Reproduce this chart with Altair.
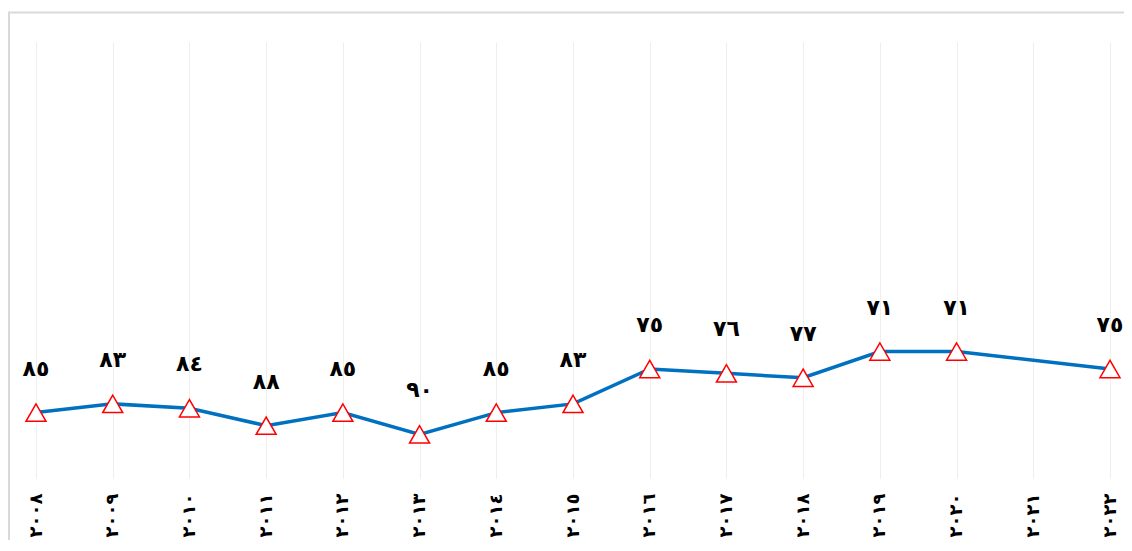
import altair as alt
import pandas as pd

# ---- data ----
years = ["٢٠٠٨", "٢٠٠٩", "٢٠١٠", "٢٠١١", "٢٠١٢", "٢٠١٣", "٢٠١٤", "٢٠١٥",
         "٢٠١٦", "٢٠١٧", "٢٠١٨", "٢٠١٩", "٢٠٢٠", "٢٠٢١", "٢٠٢٢"]
values = [85, 83, 84, 88, 85, 90, 85, 83, 75, 76, 77, 71, 71, None, 75]

AR_DIGITS = str.maketrans("0123456789", "٠١٢٣٤٥٦٧٨٩")
labels = [None if v is None else str(v).translate(AR_DIGITS) for v in values]

df = pd.DataFrame({"year": years, "value": values, "label": labels})
frame_df = pd.DataFrame({"k": [0]})

FONT = "DejaVu Sans"

x_enc = alt.X(
    "year:O",
    sort=years,
    scale=alt.Scale(domain=years, padding=0),
    axis=alt.Axis(
        title=None,
        labelAngle=270,
        labelFont=FONT,
        labelFontSize=18,
        labelFontWeight="bold",
        labelColor="black",
        labelPadding=15,
        ticks=False,
        tickSize=0,
        domain=False,
        grid=True,
        gridColor="#eeeeee",
        gridWidth=1,
    ),
)
y_enc = alt.Y("value:Q", scale=alt.Scale(domain=[0, 100], reverse=True), axis=None)

base = alt.Chart(df).transform_filter("isValid(datum.value)")

line = base.mark_line(color="#0070c0", strokeWidth=3.5).encode(x=x_enc, y=y_enc)
points = base.mark_point(
    shape="triangle-up", size=400, filled=True, fill="white", stroke="#ff0000",
    strokeWidth=1.5, opacity=1,
).encode(x=x_enc, y=y_enc)
text = base.mark_text(
    dy=-37, baseline="alphabetic", align="center", font=FONT, fontSize=22,
    fontWeight="bold", color="black",
).encode(x=x_enc, y=y_enc, text="label:N")

frame_top = alt.Chart(frame_df).mark_rule(color="#d9d9d9", strokeWidth=2).encode(
    x=alt.value(-27), x2=alt.value(1150), y=alt.value(-29.5)
)
frame_left = alt.Chart(frame_df).mark_rule(color="#d9d9d9", strokeWidth=2).encode(
    x=alt.value(-27), y=alt.value(-30.5), y2=alt.value(560)
)

chart = (
    alt.layer(frame_top, frame_left, line, points, text)
    .properties(
        width=1074,
        height=436,
        padding={"left": 28, "top": 34, "right": 14, "bottom": 62},
        autosize=alt.AutoSizeParams(type="none"),
    )
    .configure_view(strokeWidth=0)
)

chart.save("out.html", embed_options={"renderer": "svg", "actions": False})
